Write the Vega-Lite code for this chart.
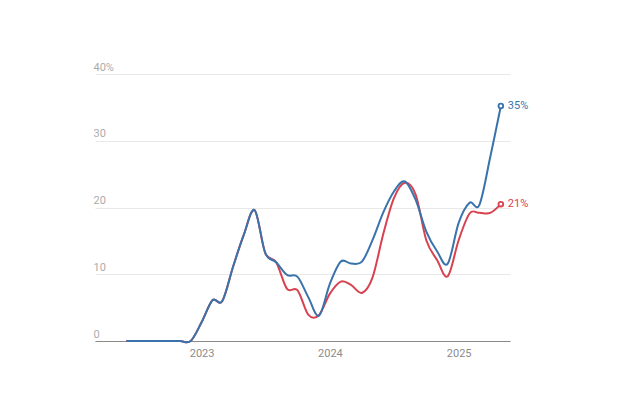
{
  "$schema": "https://vega.github.io/schema/vega-lite/v6.json",
  "width": 415,
  "height": 267,
  "autosize": "none",
  "padding": {"left": 95, "top": 74, "right": 114, "bottom": 75},
  "background": "white",
  "config": {
    "view": {"stroke": null},
    "font": "Roboto",
    "axis": {"labelFont": "Roboto", "labelFontSize": 11}
  },
  "datasets": {
    "blue": [
      {"date": "2022-06-01", "value": 0},
      {"date": "2022-07-01", "value": 0},
      {"date": "2022-08-01", "value": 0},
      {"date": "2022-09-01", "value": 0},
      {"date": "2022-10-01", "value": 0},
      {"date": "2022-11-01", "value": 0},
      {"date": "2022-12-01", "value": 0},
      {"date": "2023-01-01", "value": 2.8},
      {"date": "2023-02-01", "value": 6.1},
      {"date": "2023-03-01", "value": 6.0},
      {"date": "2023-04-01", "value": 11.2},
      {"date": "2023-05-01", "value": 15.9},
      {"date": "2023-06-01", "value": 19.6},
      {"date": "2023-07-01", "value": 13.2},
      {"date": "2023-08-01", "value": 11.8},
      {"date": "2023-09-01", "value": 9.9},
      {"date": "2023-10-01", "value": 9.6},
      {"date": "2023-11-01", "value": 6.5},
      {"date": "2023-12-01", "value": 3.8},
      {"date": "2024-01-01", "value": 8.6},
      {"date": "2024-02-01", "value": 11.9},
      {"date": "2024-03-01", "value": 11.6},
      {"date": "2024-04-01", "value": 11.9},
      {"date": "2024-05-01", "value": 15.1},
      {"date": "2024-06-01", "value": 19.3},
      {"date": "2024-07-01", "value": 22.4},
      {"date": "2024-08-01", "value": 23.9},
      {"date": "2024-09-01", "value": 21.1},
      {"date": "2024-10-01", "value": 16.4},
      {"date": "2024-11-01", "value": 13.4},
      {"date": "2024-12-01", "value": 11.6},
      {"date": "2025-01-01", "value": 17.7},
      {"date": "2025-02-01", "value": 20.7},
      {"date": "2025-03-01", "value": 20.4},
      {"date": "2025-04-01", "value": 27.6},
      {"date": "2025-05-01", "value": 35.2}
    ],
    "red": [
      {"date": "2022-06-01", "value": 0},
      {"date": "2022-07-01", "value": 0},
      {"date": "2022-08-01", "value": 0},
      {"date": "2022-09-01", "value": 0},
      {"date": "2022-10-01", "value": 0},
      {"date": "2022-11-01", "value": 0},
      {"date": "2022-12-01", "value": 0},
      {"date": "2023-01-01", "value": 2.8},
      {"date": "2023-02-01", "value": 6.1},
      {"date": "2023-03-01", "value": 6.0},
      {"date": "2023-04-01", "value": 11.2},
      {"date": "2023-05-01", "value": 15.9},
      {"date": "2023-06-01", "value": 19.6},
      {"date": "2023-07-01", "value": 13.2},
      {"date": "2023-08-01", "value": 11.8},
      {"date": "2023-09-01", "value": 7.8},
      {"date": "2023-10-01", "value": 7.6},
      {"date": "2023-11-01", "value": 3.9},
      {"date": "2023-12-01", "value": 3.9},
      {"date": "2024-01-01", "value": 7.1},
      {"date": "2024-02-01", "value": 8.9},
      {"date": "2024-03-01", "value": 8.4},
      {"date": "2024-04-01", "value": 7.2},
      {"date": "2024-05-01", "value": 9.5},
      {"date": "2024-06-01", "value": 16.1},
      {"date": "2024-07-01", "value": 21.4},
      {"date": "2024-08-01", "value": 23.7},
      {"date": "2024-09-01", "value": 21.9},
      {"date": "2024-10-01", "value": 15.1},
      {"date": "2024-11-01", "value": 12.1},
      {"date": "2024-12-01", "value": 9.7},
      {"date": "2025-01-01", "value": 15.1},
      {"date": "2025-02-01", "value": 19.1},
      {"date": "2025-03-01", "value": 19.2},
      {"date": "2025-04-01", "value": 19.2},
      {"date": "2025-05-01", "value": 20.5}
    ]
  },
  "encoding": {
    "x": {
      "field": "date",
      "type": "temporal",
      "scale": {
        "type": "utc",
        "domain": [
          {"year": 2022, "month": 3, "date": 4, "utc": true},
          {"year": 2025, "month": 5, "date": 27, "utc": true}
        ]
      },
      "axis": {
        "title": null,
        "format": "%Y",
        "tickCount": "year",
        "grid": false,
        "ticks": false,
        "domainColor": "#8a8a8a",
        "domainWidth": 1.2,
        "labelColor": "#8c8c8c",
        "labelPadding": 6,
        "labelBaseline": "top"
      }
    },
    "y": {
      "field": "value",
      "type": "quantitative",
      "scale": {"domain": [0, 40]},
      "axis": {
        "title": null,
        "values": [0, 10, 20, 30, 40],
        "domain": false,
        "ticks": false,
        "grid": true,
        "gridColor": "#e8e8e8",
        "gridWidth": 1,
        "labelAlign": "left",
        "labelBaseline": "alphabetic",
        "labelPadding": 2,
        "labelOffset": -4,
        "labelColor": "#ababab",
        "labelExpr": "datum.value == 40 ? datum.label + '%' : datum.label"
      }
    }
  },
  "layer": [
    {
      "data": {"name": "red"},
      "mark": {"type": "line", "interpolate": "cardinal", "color": "#d7424f", "strokeWidth": 2}
    },
    {
      "data": {"name": "blue"},
      "mark": {"type": "line", "interpolate": "cardinal", "color": "#3a73ab", "strokeWidth": 2}
    },
    {
      "data": {"name": "red"},
      "transform": [{"filter": "+toDate(datum.date) == +toDate('2025-05-01')"}],
      "mark": {"type": "point", "filled": true, "fill": "white", "stroke": "#d7424f", "strokeWidth": 1.8, "size": 22, "opacity": 1}
    },
    {
      "data": {"name": "blue"},
      "transform": [{"filter": "+toDate(datum.date) == +toDate('2025-05-01')"}],
      "mark": {"type": "point", "filled": true, "fill": "white", "stroke": "#3a73ab", "strokeWidth": 1.8, "size": 22, "opacity": 1}
    },
    {
      "data": {"name": "red"},
      "transform": [
        {"filter": "+toDate(datum.date) == +toDate('2025-05-01')"},
        {"calculate": "format(datum.value, '.0f') + '%'", "as": "label"}
      ],
      "mark": {"type": "text", "align": "left", "dx": 7, "fontSize": 11, "color": "#d7424f"},
      "encoding": {"text": {"field": "label"}}
    },
    {
      "data": {"name": "blue"},
      "transform": [
        {"filter": "+toDate(datum.date) == +toDate('2025-05-01')"},
        {"calculate": "format(datum.value, '.0f') + '%'", "as": "label"}
      ],
      "mark": {"type": "text", "align": "left", "dx": 7, "fontSize": 11, "color": "#3a73ab"},
      "encoding": {"text": {"field": "label"}}
    }
  ]
}
